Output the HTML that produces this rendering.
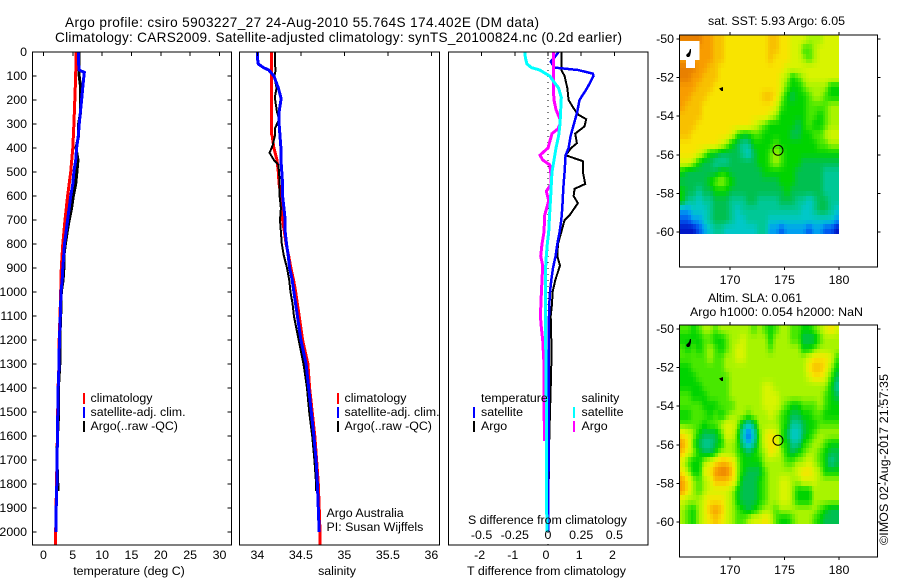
<!DOCTYPE html>
<html>
<head>
<meta charset="utf-8">
<title>Argo profile</title>
<style>
html,body{margin:0;padding:0;background:#fff;}
svg{display:block;}
text{font-family:"Liberation Sans",sans-serif;font-size:12.4px;fill:#000;}
</style>
</head>
<body>
<svg id="chart" xmlns="http://www.w3.org/2000/svg" width="900" height="580" viewBox="0 0 900 580"></svg>
<script>
// ---------- data: depths (dbar) and values ----------
const tempClimDepth=[0,100,200,300,400,500,600,700,800,900,1000,1100,1200,1300,1400,1500,1600,1700,1800,1900,2000,2054];
const tempClim=[5.55,5.5,5.35,5.2,5.0,4.65,4.13,3.68,3.3,3.05,2.95,2.83,2.7,2.65,2.5,2.43,2.38,2.3,2.25,2.15,2.1,2.08];
const tempSatDepth=[0,50,75,85,100,150,200,250,300,350,400,450,500,550,600,650,700,750,800,850,900,950,1000,1100,1200,1300,1400,1500,1600,1700,1800,1900,2000];
const tempSat=[6.0,6.0,6.1,6.97,6.9,6.7,6.5,6.3,6.1,5.95,5.65,5.5,5.2,5.0,4.65,4.4,4.13,3.87,3.6,3.45,3.3,3.2,3.0,2.88,2.73,2.66,2.52,2.45,2.4,2.32,2.28,2.18,2.12];
const tempArgoDepth=[0,50,100,150,200,250,300,350,400,450,500,550,600,650,700,750,800,850,900,950,1000,1100,1200,1300,1400,1500,1600,1700,1800,1830];
const tempArgo=[6.1,6.1,6.1,6.35,6.35,6.35,6.0,6.0,5.55,5.9,5.7,5.5,5.1,4.8,4.4,4.05,3.75,3.5,3.5,3.35,3.05,2.95,2.8,2.8,2.55,2.6,2.4,2.3,2.45,2.45];

const salClimDepth=[0,100,200,338,350,400,450,500,550,600,650,700,750,800,850,900,950,1000,1050,1100,1200,1300,1400,1500,1600,1700,1800,1900,2000,2054];
const salClim=[34.16,34.16,34.16,34.16,34.17,34.19,34.225,34.24,34.25,34.27,34.28,34.29,34.31,34.33,34.36,34.385,34.415,34.44,34.46,34.48,34.52,34.58,34.6,34.63,34.66,34.68,34.7,34.71,34.72,34.72];
const salSatDepth=[0,25,50,65,75,100,150,190,200,250,300,350,400,450,500,550,600,650,700,750,800,850,900,950,1000,1100,1200,1300,1400,1500,1600,1700,1800,1900,2000];
const salSat=[34.0,34.0,34.01,34.07,34.13,34.19,34.24,34.27,34.27,34.25,34.25,34.26,34.27,34.27,34.28,34.29,34.29,34.305,34.32,34.32,34.335,34.355,34.37,34.4,34.42,34.46,34.5,34.56,34.59,34.62,34.65,34.675,34.69,34.7,34.71];
const salArgoDepth=[0,50,75,100,150,190,250,280,320,350,390,420,450,470,500,550,600,650,700,750,800,850,900,950,1000,1050,1100,1200,1300,1400,1500,1600,1700,1800,1830];
const salArgo=[34.2,34.2,34.21,34.195,34.22,34.2,34.225,34.25,34.2,34.2,34.175,34.14,34.19,34.24,34.25,34.255,34.255,34.27,34.26,34.27,34.28,34.305,34.34,34.365,34.38,34.405,34.42,34.475,34.53,34.57,34.595,34.63,34.655,34.675,34.675];

const dTSatDepth=[0,25,40,65,75,90,100,150,200,250,300,350,400,430,500,550,600,650,700,750,800,850,900,950,1000,1050,1100,1200,1300,1400,1500,1600,1700,1800,1900,2000];
const dTSat=[0.32,0.18,0.08,0.2,0.9,1.35,1.37,1.18,0.95,0.88,0.78,0.68,0.62,0.53,0.5,0.47,0.45,0.43,0.4,0.35,0.28,0.23,0.15,0.1,0.06,0.04,0.03,0.02,0.02,0.02,0.02,0.02,0.02,0.01,0.01,0.01];
const dTArgoDepth=[0,50,75,100,150,200,230,260,280,310,340,380,400,430,455,500,550,570,600,630,680,700,750,800,850,890,950,1000,1050,1100,1200,1300,1400,1500,1600,1700,1800,1830];
const dTArgo=[0.4,0.4,0.4,0.5,0.58,0.62,0.75,0.9,1.15,1.1,0.82,0.87,0.7,0.53,1.05,1.05,1.12,0.8,0.77,0.9,0.65,0.5,0.4,0.3,0.28,0.36,0.22,0.14,0.12,0.08,0.1,0.1,0.08,0.06,0.04,0.03,0.02,0.02];
const dSSatDepth=[0,25,50,65,75,100,125,150,190,250,300,350,400,450,500,550,600,650,700,750,800,850,900,1000,1100,1200,1300,1400,1500,1600,1700,1800,1900,2000];
const dSSat=[-0.175,-0.17,-0.158,-0.125,-0.0625,0.0125,0.045,0.08,0.1,0.095,0.09,0.08,0.06,0.045,0.03,0.025,0.02,0.015,0.01,0.005,-0.005,-0.0125,-0.018,-0.02,-0.018,-0.018,-0.015,-0.015,-0.01,-0.01,-0.01,-0.01,-0.01,-0.008];
const dSArgoDepth=[0,50,100,150,200,240,280,300,320,340,400,430,450,470,500,550,580,620,680,750,800,850,890,950,1000,1100,1150,1200,1300,1400,1500,1600,1620];
const dSArgo=[0.04,0.04,0.04,0.04,0.045,0.06,0.09,0.09,0.075,0.03,0,-0.06,-0.04,0.0125,0.02,0.025,-0.0125,0.005,-0.025,-0.03,-0.045,-0.055,-0.04,-0.045,-0.05,-0.0575,-0.05,-0.04,-0.03,-0.03,-0.03,-0.025,-0.025];

const n=null;
// colour-level grids, north to south, west to east
const sstGrid=[
[13,13,13,13,12,12,11,11,10,10,10,10,10,10,10,10,11,11,10,10,9,9,9,8,8,8,9,9,9],
[n,n,n,n,12,12,11,11,10,10,10,10,10,10,10,10,11,11,10,10,9,9,7,7,8,9,9,9,9],
[n,n,n,n,12,12,11,11,10,10,10,10,10,10,10,10,11,10,10,10,9,9,8,7,8,9,9,9,9],
[13,13,13,12,12,11,11,10,10,10,10,10,10,10,10,10,10,10,10,9,9,9,9,9,9,9,9,9,9],
[13,13,12,12,11,11,11,10,10,10,10,10,10,10,10,10,10,10,9,8,6,7,8,9,9,9,9,9,9],
[12,12,12,11,11,11,10,10,10,10,10,10,10,10,10,10,10,10,9,7,6,6,7,8,8,8,8,6,6],
[12,12,11,11,11,10,10,10,10,10,10,10,10,10,10,11,11,10,8,6,5,6,6,7,8,8,7,6,6],
[12,11,11,11,10,10,10,10,10,10,10,10,10,10,10,10,10,9,7,6,6,6,6,7,7,7,7,8,8],
[11,11,11,11,10,10,10,10,10,10,10,10,10,10,10,10,9,8,6,6,6,6,6,7,7,6,7,8,8],
[11,11,11,10,10,10,10,10,10,10,10,10,10,9,8,7,6,6,6,6,6,5,6,7,6,6,7,8,8],
[11,11,10,10,10,10,10,10,10,9,7,6,6,7,7,6,6,6,6,6,5,5,6,6,7,7,8,9,9],
[10,10,10,10,10,10,10,9,8,6,5,4,4,6,6,6,6,7,6,6,6,6,6,6,6,7,7,8,8],
[10,10,10,9,8,6,6,5,5,5,5,4,3,5,6,6,7,8,7,6,6,6,6,6,6,6,6,6,6],
[9,9,8,6,5,5,4,4,4,5,5,5,5,5,6,6,7,8,7,6,6,6,5,5,5,5,5,5,5],
[6,5,5,5,5,5,5,6,6,5,5,5,5,5,5,6,6,6,6,6,6,5,5,5,5,5,4,4,4],
[5,5,5,5,5,6,7,8,7,6,5,5,5,5,5,5,5,5,6,6,6,5,5,5,5,5,4,4,4],
[6,5,5,4,5,5,6,6,6,5,5,5,5,5,5,5,5,5,5,6,5,5,5,5,5,5,4,4,4],
[6,4,4,3,4,4,5,5,5,4,4,4,5,5,4,4,4,4,5,5,5,4,4,3,4,5,5,4,4],
[2,2,3,3,3,4,5,5,5,4,3,4,4,4,4,4,4,4,4,4,4,4,3,3,4,5,5,4,3],
[1,1,2,2,3,4,5,5,5,4,3,3,4,4,4,4,3,3,3,3,3,3,3,3,3,3,3,3,2],
[0,0,0,1,2,3,4,4,3,3,3,3,3,3,4,4,2,2,1,2,2,2,2,1,2,2,1,1,0]
];
const slaGrid=[
[7,7,6,7,8,8,7,8,8,8,8,8,8,7,8,7,6,7,8,8,7,7,6,6,7,8,9,10,9],
[6,6,6,6,7,7,6,6,7,8,8,9,8,8,8,8,6,8,8,8,7,7,5,5,5,7,8,8,8],
[7,6,7,6,7,8,7,6,7,8,9,9,8,8,8,8,7,8,8,8,8,8,6,6,7,8,8,8,8],
[7,7,7,7,7,8,7,7,8,8,9,9,8,8,8,8,8,8,8,8,8,8,8,9,10,10,10,9,7],
[6,6,7,7,7,7,7,7,8,8,8,8,8,8,8,8,8,8,8,8,8,8,8,10,11,11,10,8,6],
[6,6,6,7,7,7,7,7,7,8,8,8,8,8,8,8,8,8,8,8,8,8,8,9,10,10,9,7,5],
[6,6,6,6,7,7,7,7,7,8,8,8,8,8,8,9,9,8,8,8,8,8,8,8,8,8,8,6,4],
[7,7,6,6,6,7,7,7,7,8,8,8,8,8,8,9,9,9,8,8,8,8,8,8,8,8,7,6,5],
[7,7,7,7,6,6,6,7,7,7,8,8,8,8,8,9,9,9,8,7,6,6,7,7,7,8,7,6,6],
[6,6,7,7,7,6,7,6,7,8,8,8,7,8,8,8,9,8,7,6,5,5,6,6,7,7,6,6,6],
[7,7,7,7,6,7,7,8,9,9,8,5,3,5,8,8,8,8,7,6,4,4,5,6,6,7,7,7,7],
[10,9,8,6,5,5,5,7,9,9,7,3,1,3,7,9,10,9,7,5,3,3,5,6,7,8,8,8,8],
[12,10,7,5,4,4,5,6,8,8,7,4,2,4,7,9,10,10,7,6,4,4,6,7,8,8,7,6,6],
[11,9,8,6,5,5,6,8,8,8,7,6,5,6,7,8,10,9,8,6,5,6,7,8,8,7,6,5,5],
[9,7,6,6,8,9,10,11,11,10,8,6,6,6,6,8,8,8,8,7,7,8,8,9,8,7,6,4,5],
[10,8,6,6,9,10,12,13,13,11,8,6,5,5,5,7,8,8,8,8,8,9,10,10,9,8,6,6,6],
[12,10,8,7,8,9,11,11,11,10,8,5,5,5,6,7,8,8,9,9,8,8,9,9,9,8,8,8,8],
[12,10,8,7,8,9,9,9,9,8,6,5,5,5,6,7,8,8,9,9,8,6,6,6,8,8,8,8,8],
[9,8,8,8,9,10,10,10,9,8,6,5,5,5,6,7,8,8,9,9,8,6,6,6,8,8,8,8,8],
[8,7,6,8,9,11,12,11,9,8,7,6,5,6,7,8,8,7,8,8,8,8,8,8,8,7,6,5,5],
[8,7,6,8,9,10,11,10,9,8,7,7,8,9,9,10,9,7,6,6,7,8,8,8,7,6,5,5,5]
];

// tick labels
const depthTicks=[0,100,200,300,400,500,600,700,800,900,1000,1100,1200,1300,1400,1500,1600,1700,1800,1900,2000];
const tempTicks=[0,5,10,15,20,25,30];
const salTicks=[34,34.5,35,35.5,36];
const tDiffTicks=[-2,-1,0,1,2];
const sDiffTicks=[-0.5,-0.25,0,0.25,0.5];
const lonTicks=[170,175,180];
const latTicks=[-50,-52,-54,-56,-58,-60];
const argoLon=174.402;
const argoLat=-55.764;

// ---------- axis functions ----------
const depthY=d=>52+0.24*d;
const tempX=t=>43.4+5.87*t;
const salX=s=>257.4+87*(s-34);
const tDiffX=t=>548+33.2*t;
const sDiffX=s=>548+132.8*s;
const lonX=l=>730+10.9*(l-170);
const latY=(l,top)=>top+4+19.3*(-50-l);

const svg=document.getElementById('chart');
const NS='http://www.w3.org/2000/svg';
function make(tag,attrs,parent){
  const e=document.createElementNS(NS,tag);
  for(const k in attrs)e.setAttribute(k,attrs[k]);
  (parent||svg).appendChild(e);
  return e;
}
function label(str,x,y,anchor,name,extra){
  const t=make('text',Object.assign({x:x,y:y,'text-anchor':anchor||'start'},extra||{}));
  t.textContent=str;
  
  
  return t;
}
function line(x1,y1,x2,y2,name,w,col){
  const l=make('line',{x1:x1,y1:y1,x2:x2,y2:y2,stroke:col||'#000','stroke-width':w||1,'shape-rendering':'crispEdges'});
  
  
  return l;
}
function frame(x,y,w,h,name){
  const r=make('rect',{x:x,y:y,width:w,height:h,fill:'none',stroke:'#000','stroke-width':1,'shape-rendering':'crispEdges'});
  
  
}
function profile(xs,ds,xf,col,name,w){
  const pts=xs.map((v,i)=>xf(v).toFixed(1)+','+depthY(ds[i]).toFixed(1)).join(' ');
  const p=make('polyline',{points:pts,fill:'none',stroke:col,'stroke-width':w||2,'shape-rendering':'crispEdges'});
  
  
}
function legendBar(x,y,col,name){
  const r=make('rect',{x:x,y:y,width:2,height:11,fill:col});
  
  
}

const PB=545,PT=52;

// ---------- titles ----------
label('Argo profile: csiro 5903227_27 24-Aug-2010 55.764S 174.402E (DM data)',65,27,'start','main-title-line-1',{textLength:474,lengthAdjust:'spacing',style:'font-size:13.6px'});
label('Climatology: CARS2009. Satellite-adjusted climatology: synTS_20100824.nc (0.2d earlier)',55,42,'start','main-title-line-2',{textLength:567,lengthAdjust:'spacing',style:'font-size:13.6px'});

// ---------- temperature panel ----------
profile(tempClim,tempClimDepth,tempX,'#ff0000','temperature-climatology-line',3);
profile(tempArgo,tempArgoDepth,tempX,'#000000','temperature-argo-line',3);
profile(tempSat,tempSatDepth,tempX,'#0000ff','temperature-satellite-line',3);
frame(32.5,PT,199,PB-PT,'temperature-panel-frame');
depthTicks.forEach(d=>{
  line(32.5,depthY(d),36.5,depthY(d),'depth-tick');
  line(231.5,depthY(d),227.5,depthY(d),'depth-tick-right');
  label(String(d),27,depthY(d)+4,'end','depth-tick-label');
});
tempTicks.forEach(t=>{
  line(tempX(t),PT,tempX(t),PT+4,'temperature-tick');
  label(String(t),tempX(t),559,'middle','temperature-tick-label');
});
label('temperature (deg C)',129,575,'middle','temperature-axis-title');
legendBar(83,393,'#ff0000','legend-swatch-climatology');
legendBar(83,407,'#0000ff','legend-swatch-satellite');
legendBar(83,421,'#000000','legend-swatch-argo');
label('climatology',90.5,402,'start','legend-climatology');
label('satellite-adj. clim.',90.5,416,'start','legend-satellite');
label('Argo(..raw -QC)',90.5,430,'start','legend-argo');

// ---------- salinity panel ----------
profile(salClim,salClimDepth,salX,'#ff0000','salinity-climatology-line',3);
profile(salArgo,salArgoDepth,salX,'#000000','salinity-argo-line',2);
profile(salSat,salSatDepth,salX,'#0000ff','salinity-satellite-line',3);
frame(239.5,PT,200,PB-PT,'salinity-panel-frame');
salTicks.forEach(s=>{
  line(salX(s),PT,salX(s),PT+4,'salinity-tick');
  label(String(s),salX(s),559,'middle','salinity-tick-label');
});
label('salinity',337,575,'middle','salinity-axis-title');
legendBar(337,393,'#ff0000','legend-swatch-climatology');
legendBar(337,407,'#0000ff','legend-swatch-satellite');
legendBar(337,421,'#000000','legend-swatch-argo');
label('climatology',344.5,402,'start','legend-climatology');
label('satellite-adj. clim.',344.5,416,'start','legend-satellite');
label('Argo(..raw -QC)',344.5,430,'start','legend-argo');
label('Argo Australia',326.5,517,'start','credit-argo-australia');
label('PI: Susan Wijffels',326.5,531,'start','credit-pi-name');

// ---------- difference panel ----------
const zero=make('line',{x1:tDiffX(0),y1:PT,x2:tDiffX(0),y2:PB,stroke:'#000','stroke-width':1,'stroke-dasharray':'1 5'});


profile(dTArgo,dTArgoDepth,tDiffX,'#000000','t-difference-argo-line',2);
profile(dTSat,dTSatDepth,tDiffX,'#0000ff','t-difference-satellite-line',2.5);
profile(dSArgo,dSArgoDepth,sDiffX,'#ff00ff','s-difference-argo-line',3);
profile(dSSat,dSSatDepth,sDiffX,'#00ffff','s-difference-satellite-line',3);
frame(448.5,PT,199.5,PB-PT,'difference-panel-frame');
tDiffTicks.forEach(t=>{
  line(tDiffX(t),PT,tDiffX(t),PT+4,'t-difference-tick');
  label(String(t),tDiffX(t)-2,559,'middle','t-difference-tick-label');
});
sDiffTicks.forEach(s=>{
  label(String(s),sDiffX(s),539,'middle','s-difference-tick-label');
});
label('S difference from climatology',547.5,524,'middle','s-difference-axis-title',{textLength:159});
label('T difference from climatology',546.5,575,'middle','t-difference-axis-title',{textLength:159});
label('temperature',481,402,'start','legend-temperature-heading');
label('satellite',481,416,'start','legend-t-satellite');
label('Argo',481,430,'start','legend-t-argo');
label('salinity',581.5,402,'start','legend-salinity-heading');
label('satellite',581.5,416,'start','legend-s-satellite');
label('Argo',581.5,430,'start','legend-s-argo');
legendBar(473,407,'#0000ff','legend-swatch-t-satellite');
legendBar(473,421,'#000000','legend-swatch-t-argo');
legendBar(573,407,'#00ffff','legend-swatch-s-satellite');
legendBar(573,421,'#ff00ff','legend-swatch-s-argo');

// ---------- maps ----------
const palette=[[0,24,200],[0,88,240],[0,160,240],[0,200,200],[0,200,150],[0,192,80],[0,212,0],[72,232,0],[168,244,0],[216,244,0],[248,228,0],[248,192,0],[248,156,0],[232,128,0]];
const lonW=165.38, dLon=(180-165.38)/29, dLat=0.4905, SUB=2;
function levelColor(v){
  const a=Math.max(0,Math.min(12,Math.floor(v))),f=Math.min(1,v-a);
  const c=palette[a].map((p,k)=>Math.round(p+(palette[a+1][k]-p)*f));
  return 'rgb('+c.join(',')+')';
}
function valueAt(grid,j,i){
  const r=Math.max(0,Math.min(grid.length-1,j));
  let c=Math.max(0,Math.min(grid[0].length-1,i));
  while(grid[r][c]===null)c++;
  return grid[r][c];
}
function sample(grid,u,w){
  const j=Math.floor(w),i=Math.floor(u),fy=w-j,fx=u-i;
  const top=valueAt(grid,j,i)*(1-fx)+valueAt(grid,j,i+1)*fx;
  const bot=valueAt(grid,j+1,i)*(1-fx)+valueAt(grid,j+1,i+1)*fx;
  return top*(1-fy)+bot*fy;
}
function drawMap(grid,top,height,name){
  const g=make('g',{});
  
  
  const rows=grid.length*SUB,cols=grid[0].length*SUB;
  for(let j=0;j<rows;j++){
    for(let i=0;i<cols;i++){
      const v=sample(grid,(i+0.5)/SUB-0.5,(j+0.5)/SUB-0.5);
      const x0=Math.round(lonX(lonW+i*dLon/SUB)),x1=Math.round(lonX(lonW+(i+1)*dLon/SUB));
      const y0=Math.round(latY(-49.79-j*dLat/SUB,top)),y1=Math.round(latY(-49.79-(j+1)*dLat/SUB,top));
      const c=make('rect',{x:x0,y:y0,width:x1-x0,height:y1-y0,fill:levelColor(v)},g);
      
      
    }
  }
  const isl1=make('path',{d:'M686 '+(top+20)+'l3-3 1-3 1 0 0 3-1 4-1 1-2 0z',fill:'#000'});
  
  
  const isl2=make('path',{d:'M719 '+(top+53.5)+'l4-1.5 0 4-1.5 0z',fill:'#000'});
  
  
  frame(679.5,top,198,height,name+'-frame');
  lonTicks.forEach(l=>{
    line(lonX(l),top-3,lonX(l),top,name+'-lon-tick-top');
    line(lonX(l),top+height,lonX(l),top+height+3,name+'-lon-tick-bottom');
    label(String(l),lonX(l),top+height+17,'middle',name+'-lon-label');
  });
  latTicks.forEach(l=>{
    line(676.5,latY(l,top),679.5,latY(l,top),name+'-lat-tick');
    line(877.5,latY(l,top),880.5,latY(l,top),name+'-lat-tick-right');
    label(String(l),674,latY(l,top)+4,'end',name+'-lat-label');
  });
  const c=make('circle',{cx:lonX(argoLon),cy:latY(argoLat,top),r:5,fill:'none',stroke:'#000','stroke-width':1});
  
  
}
drawMap(sstGrid,35,232,'sst-map');
drawMap(slaGrid,325,232,'sla-map');

const mask1=make('rect',{x:680,y:41,width:19.5,height:19,fill:'#fff'});


const mask2=make('rect',{x:686,y:60,width:9,height:8,fill:'#fff'});


const isl3=make('path',{d:'M686 55l3-3 1-3 1 0 0 3-1 4-1 1-2 0z',fill:'#000'});



label('sat. SST: 5.93 Argo: 6.05',708,25,'start','sst-map-title',{textLength:137});
label('Altim. SLA: 0.061',708,302,'start','sla-map-title-line-1',{textLength:94});
label('Argo h1000: 0.054 h2000: NaN',690,316,'start','sla-map-title-line-2',{textLength:173});
label('©IMOS 02-Aug-2017 21:57:35',888,545,'start','timestamp-credit',{transform:'rotate(-90 888 545)',textLength:171});
</script>
</body>
</html>
